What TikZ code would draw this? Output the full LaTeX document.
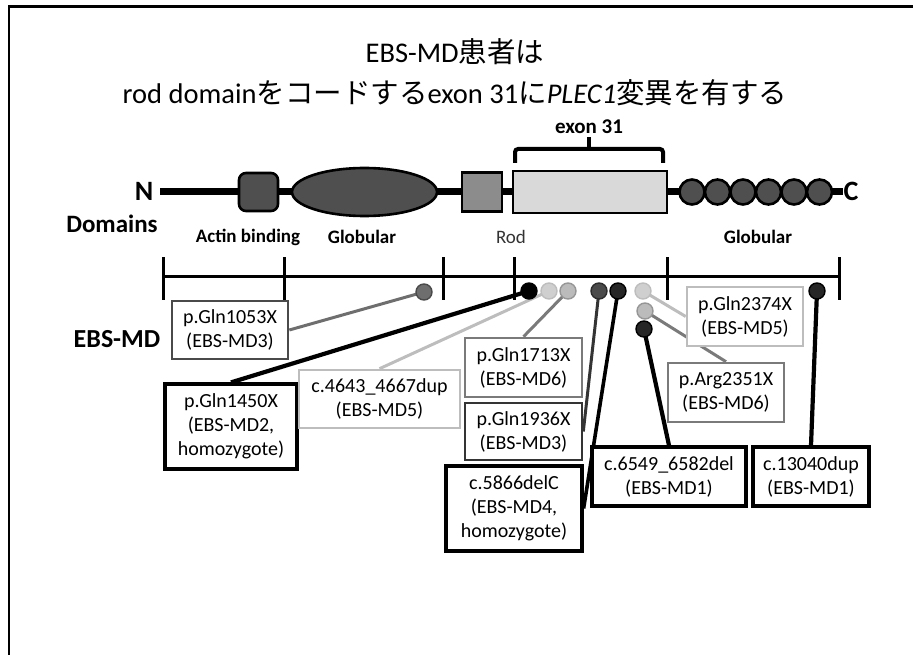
\documentclass[tikz,border=0pt]{standalone}
\usepackage{fontspec}
\setmainfont{Carlito}
\newfontfamily\jp{Noto Sans CJK JP}
\usetikzlibrary{backgrounds,shapes.geometric}
\definecolor{dk}{HTML}{4F4F4F}
\definecolor{md}{HTML}{8C8C8C}
\definecolor{lt}{HTML}{D9D9D9}
\definecolor{mdthree}{HTML}{6E6E6E}
\definecolor{mdthreeb}{HTML}{4A4A4A}
\definecolor{mdfive}{HTML}{BDBDBD}
\definecolor{mdfivefill}{HTML}{CFCFCF}
\definecolor{mdsix}{HTML}{7A7A7A}
\definecolor{mdsixfill}{HTML}{BBBBBB}
\begin{document}
\begin{tikzpicture}[x=1pt,y=-1pt,
  mbox/.style={draw, fill=white, rectangle, align=center, inner sep=0pt,
    font=\fontsize{20}{24}\selectfont},
  blackbox/.style={mbox, draw=black, line width=3.2pt},
  greybox/.style={mbox, line width=2.6pt},
  dot/.style={circle, draw, inner sep=0pt, minimum size=16pt, line width=1.4pt},
  lbl/.style={font=\fontsize{19}{22}\selectfont\bfseries},
  titlefont/.style={font=\fontsize{28.5}{34}\selectfont},
  dshape/.style={draw=black, line width=2.6pt},
  blackline/.style={line width=4.2pt, black},
  greyline/.style={line width=3pt},
  ticks/.style={line width=3pt}
]
\useasboundingbox (0,0) rectangle (913,655);
% frame
\draw[line width=2.8pt] (9,655) -- (9,6.5) -- (913,6.5);

% title
\node[titlefont] (t1) at (455,52) {EBS-MD{\jp 患者は}};
\node[titlefont] (t2) at (455,93)
  {rod domain{\jp をコードする}exon 31{\jp に}\textit{PLEC1}{\jp 変異を有する}};

% exon 31 label and brace
\node[font=\fontsize{21}{24}\selectfont\bfseries] (ex) at (589,127) {exon 31};
\draw[line width=4pt, rounded corners=3pt] (515,163) -- (515,149) -- (663,149) -- (663,163);
\draw[line width=4pt] (589,149) -- (589,137);

% backbone
\node[font=\fontsize{28}{32}\selectfont\bfseries] (N) at (144,191) {N};
\node[font=\fontsize{28}{32}\selectfont\bfseries] (C) at (851,191) {C};
\draw[line width=7pt] (160,192) -- (843,192);

\node[dshape, fill=dk, rectangle, rounded corners=7pt, minimum width=39pt, minimum height=38pt] (actin) at (258.5,192) {};
\node[dshape, fill=dk, ellipse, minimum width=145pt, minimum height=48pt, inner sep=0pt] (glob) at (364.5,192) {};
\node[dshape, fill=md, rectangle, minimum width=40pt, minimum height=39pt] (rod) at (482,192) {};
\node[dshape, fill=lt, rectangle, minimum width=154pt, minimum height=42pt] (exon) at (590,192) {};
\foreach \i/\xx in {1/692,2/717.5,3/743,4/768.5,5/794,6/819.5}
  \node[dshape, fill=dk, circle, minimum size=25pt, inner sep=0pt] (g\i) at (\xx,192) {};

% domain labels
\node[font=\fontsize{25}{28}\selectfont\bfseries] (dom) at (112,224) {Domains};
\node[lbl] (la) at (248,237) {Actin binding};
\node[lbl] (lg1) at (362,237) {Globular};
\node[font=\fontsize{19}{22}\selectfont, text=black!80] (lr) at (511,237) {Rod};
\node[lbl] (lg2) at (758,237) {Globular};

% scale line
\draw[ticks] (163,276) -- (839,276);
\foreach \xx in {163,284,443,514,667,839}
  \draw[ticks] (\xx,257) -- (\xx,300);

\node[font=\fontsize{26}{30}\selectfont\bfseries] (ebs) at (117,339) {EBS-MD};

% mutation boxes
\node[greybox, draw=mdthreeb, minimum width=116pt, minimum height=58pt] (b1053) at (230,330) {p.Gln1053X\\(EBS-MD3)};
\node[blackbox, minimum width=132pt, minimum height=85pt] (b1450) at (231,426.5) {p.Gln1450X\\(EBS-MD2,\\homozygote)};
\node[greybox, draw=mdfive, minimum width=161pt, minimum height=58pt] (b4643) at (379.5,399) {c.4643\_4667dup\\(EBS-MD5)};
\node[greybox, draw=mdsix, minimum width=117pt, minimum height=59pt] (b1713) at (523.5,367.5) {p.Gln1713X\\(EBS-MD6)};
\node[greybox, draw=mdthreeb!70!black, minimum width=117pt, minimum height=57pt] (b1936) at (523.5,431.5) {p.Gln1936X\\(EBS-MD3)};
\node[blackbox, minimum width=136pt, minimum height=85pt] (b5866) at (514,508.5) {c.5866delC\\(EBS-MD4,\\homozygote)};
\node[greybox, draw=mdfive, minimum width=116pt, minimum height=59pt] (b2374) at (745,316.5) {p.Gln2374X\\(EBS-MD5)};
\node[greybox, draw=mdsix, minimum width=116pt, minimum height=59pt] (b2351) at (726,392.5) {p.Arg2351X\\(EBS-MD6)};
\node[blackbox, minimum width=154pt, minimum height=59pt] (b6549) at (669,476.5) {c.6549\_6582del\\(EBS-MD1)};
\node[blackbox, minimum width=116pt, minimum height=59pt] (b13040) at (811,476.5) {c.13040dup\\(EBS-MD1)};

% mutation dots
\node[dot, fill=mdthree, draw=mdthreeb] (d1053) at (424,292) {};
\node[dot, fill=black, draw=black] (d1450) at (529,291) {};
\node[dot, fill=mdfivefill, draw=mdfive] (d4643) at (549,291) {};
\node[dot, fill=mdsixfill, draw=mdsixfill!80!black] (d1713) at (568,291) {};
\node[dot, fill=mdthreeb, draw=mdthreeb!60!black] (d1936) at (599,291) {};
\node[dot, fill=black!85, draw=black] (d5866) at (618,291) {};
\node[dot, fill=mdfivefill, draw=mdfive] (d2374) at (643,291) {};
\node[dot, fill=mdsixfill, draw=mdsixfill!80!black] (d2351) at (645,311) {};
\node[dot, fill=black!85, draw=black] (d6549) at (644,329) {};
\node[dot, fill=black!85, draw=black] (d13040) at (817,291) {};

% connectors
\begin{scope}[on background layer]
\draw[greyline, mdthree] (d1053.center) -- (b1053.east);
\draw[blackline] (d1450.center) -- (b1450.north);
\draw[greyline, mdfive] (d4643.center) -- (b4643.north);
\draw[greyline, mdsix] (d1713.center) -- (b1713.north);
\draw[greyline, mdthreeb!70!black] (d1936.center) -- (b1936.east);
\draw[blackline, line width=3.6pt] (d5866.center) -- (b5866.east);
\draw[greyline, mdfive] (d2374.center) -- (b2374.west);
\draw[greyline, mdsix] (d2351.center) -- (b2351.north);
\draw[blackline] (d6549.center) -- (b6549.north);
\draw[blackline] (d13040.center) -- (b13040.north);
\end{scope}
\end{tikzpicture}
\end{document}
